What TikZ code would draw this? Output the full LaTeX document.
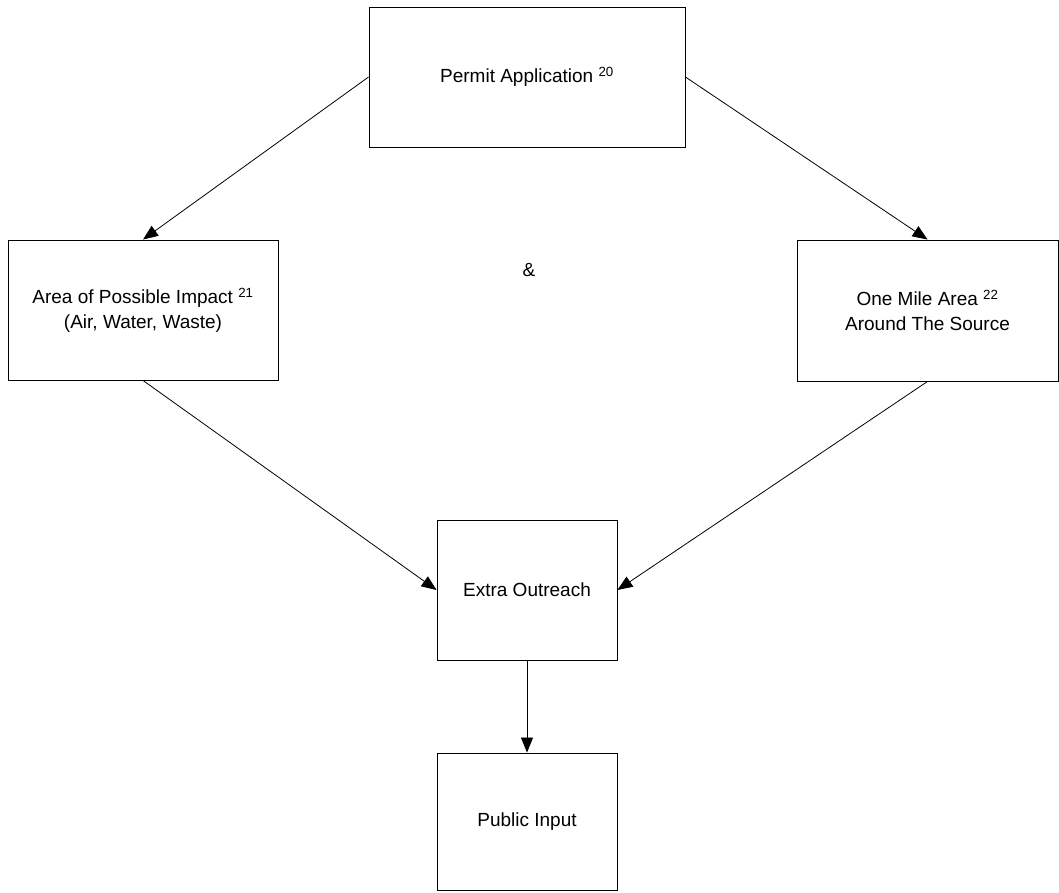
\documentclass[tikz,border=0pt]{standalone}
\usepackage{fontspec}
\setmainfont{Liberation Sans}
\usetikzlibrary{arrows.meta}
\begin{document}
\begin{tikzpicture}[x=1pt,y=-1pt,
  box/.style={draw=black, line width=0.9pt, rectangle, align=center, inner sep=0pt,
    font=\fontsize{19}{25}\selectfont},
  conn/.style={draw=black, line width=0.8pt, -{Triangle[length=15pt,width=12pt]}},
  sup/.style={}]
\useasboundingbox (0,0) rectangle (1059,892);
\node[box, minimum width=316pt, minimum height=140pt] (perm) at (527,77) {Permit Application \textsuperscript{20}};
\node[box, minimum width=270pt, minimum height=140pt] (area) at (143,310) {Area of Possible Impact \textsuperscript{21}\\(Air, Water, Waste)};
\node[box, minimum width=261pt, minimum height=141pt] (mile) at (927.5,310.5) {One Mile Area \textsuperscript{22}\\Around The Source};
\node[box, minimum width=180pt, minimum height=140pt] (extra) at (527,590) {Extra Outreach};
\node[box, minimum width=180pt, minimum height=137pt] (public) at (527,821.5) {Public Input};
\node[font=\fontsize{19}{25}\selectfont] (amp) at (529,270) {\&};
\draw[conn] (perm.west) -- (area.north);
\draw[conn] (perm.east) -- (mile.north);
\draw[conn] (area.south) -- (extra.west);
\draw[conn] (mile.south) -- (extra.east);
\draw[conn] (extra.south) -- (public.north);
\end{tikzpicture}
\end{document}
